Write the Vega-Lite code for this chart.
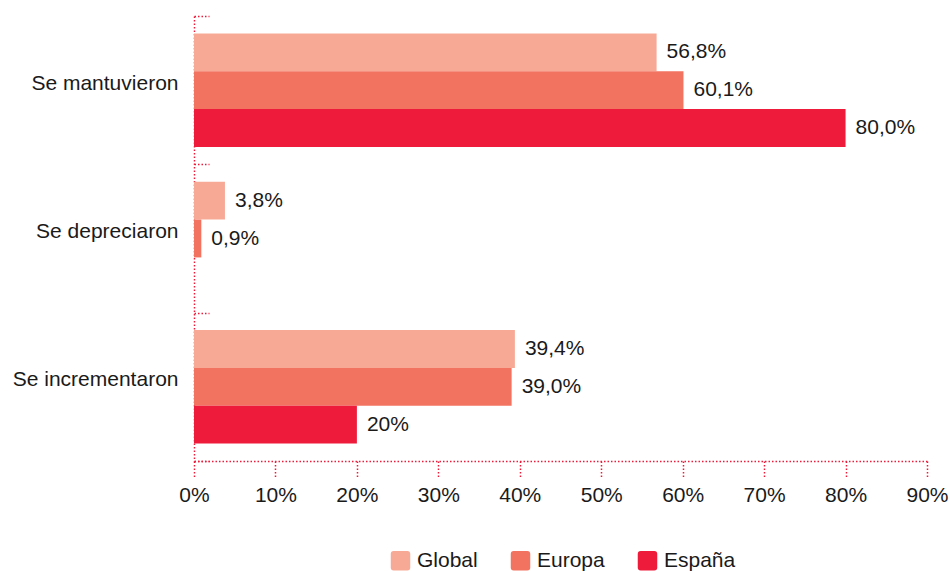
{
  "$schema": "https://vega.github.io/schema/vega-lite/v6.json",
  "autosize": "none",
  "width": 733,
  "height": 445,
  "padding": {"left": 194, "top": 16, "right": 23, "bottom": 110},
  "config": {
    "font": "Liberation Sans",
    "view": {"stroke": null}
  },
  "data": {
    "values": [
      {"category": "Se mantuvieron", "series": "Global", "value": 56.8, "label": "56,8%"},
      {"category": "Se mantuvieron", "series": "Europa", "value": 60.1, "label": "60,1%"},
      {"category": "Se mantuvieron", "series": "España", "value": 80.0, "label": "80,0%"},
      {"category": "Se depreciaron", "series": "Global", "value": 3.8, "label": "3,8%"},
      {"category": "Se depreciaron", "series": "Europa", "value": 0.9, "label": "0,9%"},
      {"category": "Se incrementaron", "series": "Global", "value": 39.4, "label": "39,4%"},
      {"category": "Se incrementaron", "series": "Europa", "value": 39.0, "label": "39,0%"},
      {"category": "Se incrementaron", "series": "España", "value": 20, "label": "20%"}
    ]
  },
  "encoding": {
    "y": {
      "field": "category",
      "type": "nominal",
      "sort": ["Se mantuvieron", "Se depreciaron", "Se incrementaron"],
      "scale": {"paddingInner": 0, "paddingOuter": 0},
      "axis": {
        "title": null,
        "labelFontSize": 21,
        "labelColor": "#1a1a1a",
        "labelPadding": 31,
        "labelOffset": -7,
        "domainColor": "#ee1b3a",
        "domainDash": [1.5, 2],
        "domainWidth": 1.5,
        "tickBand": "extent",
        "tickSize": -15,
        "tickColor": "#ee1b3a",
        "tickDash": [1.5, 2],
        "tickWidth": 1.5
      }
    },
    "yOffset": {
      "field": "series",
      "type": "nominal",
      "sort": ["Global", "Europa", "España"],
      "scale": {"paddingOuter": 0.46, "paddingInner": 0}
    },
    "x": {
      "field": "value",
      "type": "quantitative",
      "scale": {"domain": [0, 90], "nice": false},
      "axis": {
        "title": null,
        "values": [0, 10, 20, 30, 40, 50, 60, 70, 80, 90],
        "labelExpr": "datum.value + '%'",
        "labelFontSize": 21,
        "labelColor": "#1a1a1a",
        "labelPadding": 7,
        "grid": false,
        "domainColor": "#ee1b3a",
        "domainDash": [1.5, 2],
        "domainWidth": 1.5,
        "tickSize": 16,
        "tickColor": "#ee1b3a",
        "tickDash": [1.5, 2],
        "tickWidth": 1.5,
        "labelFlush": false
      }
    }
  },
  "layer": [
    {
      "mark": {"type": "bar"},
      "encoding": {
        "color": {
          "field": "series",
          "type": "nominal",
          "scale": {
            "domain": ["Global", "Europa", "España"],
            "range": ["#f7a996", "#f27360", "#ee1b3a"]
          },
          "legend": {
            "title": null,
            "orient": "none",
            "legendX": 196,
            "legendY": 534,
            "direction": "horizontal",
            "labelFontSize": 21,
            "labelColor": "#1a1a1a",
            "symbolType": "M-0.7,-1H0.7Q1,-1 1,-0.7V0.7Q1,1 0.7,1H-0.7Q-1,1 -1,0.7V-0.7Q-1,-1 -0.7,-1Z",
            "symbolSize": 380,
            "symbolOpacity": 1,
            "symbolStrokeWidth": 0,
            "columnPadding": 32,
            "labelOffset": 6
          }
        }
      }
    },
    {
      "mark": {"type": "text", "align": "left", "baseline": "middle", "dx": 10, "fontSize": 21, "color": "#1a1a1a"},
      "encoding": {
        "text": {"field": "label"}
      }
    }
  ]
}
